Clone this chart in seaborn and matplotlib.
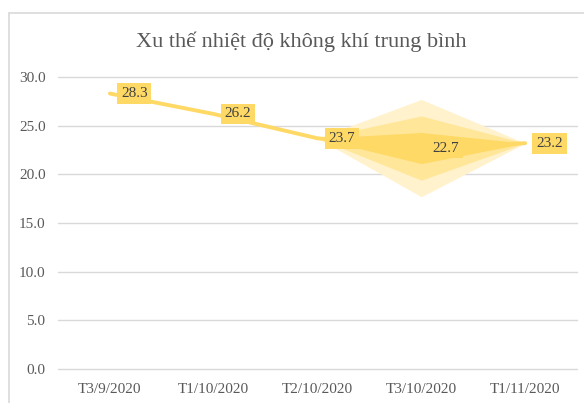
import numpy as np
import pandas as pd
import matplotlib
matplotlib.use('Agg')
import matplotlib.pyplot as plt
from matplotlib.lines import Line2D
import seaborn as sns

# ── data ────────────────────────────────────────────────────────────────
categories = ["T3/9/2020", "T1/10/2020", "T2/10/2020", "T3/10/2020", "T1/11/2020"]
temps      = [28.3, 26.2, 23.7, 22.7, 23.2]
# forecast confidence half-widths (only over the forecast part)
band_inner = [np.nan, np.nan, 0.0, 1.6, 0.0]
band_mid   = [np.nan, np.nan, 0.0, 3.3, 0.0]
band_outer = [np.nan, np.nan, 0.0, 5.0, 0.0]
yticks     = [0, 5, 10, 15, 20, 25, 30]

df = pd.DataFrame({"cat": categories, "temp": temps})
df["pos"] = range(len(df))

# ── style ───────────────────────────────────────────────────────────────
sns.set_style("white")
plt.rcParams['font.family'] = ['Liberation Serif', 'DejaVu Serif']

LINE   = "#FFD966"
MID    = "#FFE699"
OUTER  = "#FFF2CC"
GRID   = "#D9D9D9"
TXT    = "#595959"

fig = plt.figure(figsize=(5.84, 4.03), dpi=100)
ax = fig.add_axes([58 / 584, 34 / 403, 519 / 584, 292 / 403])

# chart frame (only top and left edges visible, the rest is cropped)
top_y, left_x = 1 - 13 / 403, 9 / 584
fig.add_artist(Line2D([left_x, 1.0], [top_y, top_y], transform=fig.transFigure,
                      color=GRID, linewidth=1.2))
fig.add_artist(Line2D([left_x, left_x], [0.0, top_y], transform=fig.transFigure,
                      color=GRID, linewidth=1.2))

# ── forecast bands ──────────────────────────────────────────────────────
t = np.array(temps)
for half, col in [(band_outer, OUTER), (band_mid, MID), (band_inner, LINE)]:
    h = np.array(half)
    m = ~np.isnan(h)
    ax.fill_between(df["pos"][m], (t - h)[m], (t + h)[m],
                    color=col, linewidth=0, zorder=2)

# ── line ────────────────────────────────────────────────────────────────
sns.lineplot(data=df, x="pos", y="temp", color=LINE, linewidth=2.8,
             ax=ax, zorder=3, sort=False)

# ── data labels ─────────────────────────────────────────────────────────
for i, v in enumerate(temps):
    ax.annotate(f"{v:.1f}", (i, v), xytext=(8, 0), textcoords="offset points",
                ha="left", va="center", fontsize=11, color="#404040",
                bbox=dict(boxstyle="square,pad=0.25", fc=LINE, ec="none"),
                zorder=5)

# ── axes ────────────────────────────────────────────────────────────────
ax.set_xlim(-0.5, len(categories) - 0.5)
ax.set_ylim(0, 30)
ax.set_yticks(yticks)
ax.set_yticklabels([f"{y:.1f}" for y in yticks])
ax.set_xticks(df["pos"])
ax.set_xticklabels(categories)
ax.tick_params(axis="both", length=0, labelsize=11, colors=TXT)
ax.tick_params(axis="y", pad=9)
ax.tick_params(axis="x", pad=10)
ax.set_xlabel("")
ax.set_ylabel("")
ax.grid(axis="y", color=GRID, linewidth=1)
for gl in ax.get_ygridlines():
    gl.set_clip_on(False)
ax.set_axisbelow(True)
for s in ax.spines.values():
    s.set_visible(False)
ax.patch.set_alpha(0)

fig.text(301 / 584, 1 - 42 / 403, "Xu thế nhiệt độ không khí trung bình",
         ha="center", va="center", fontsize=16, color=TXT)

fig.savefig("out.png", dpi=100)
